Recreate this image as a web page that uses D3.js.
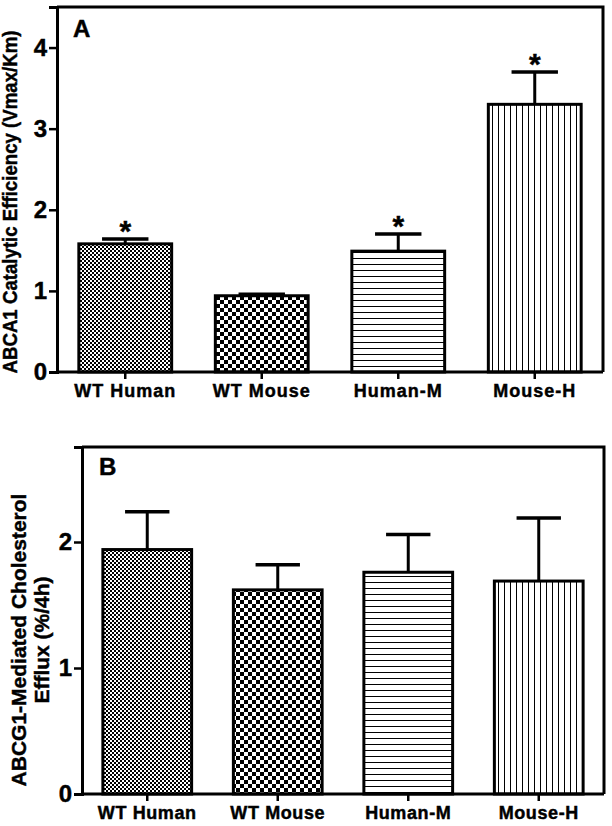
<!DOCTYPE html>
<html>
<head>
<meta charset="utf-8">
<script src="https://cdn.jsdelivr.net/npm/d3@7"></script>
<style>
  html, body { margin: 0; padding: 0; background: #fff; }
  svg { display: block; font-family: "Liberation Sans", Arial, sans-serif; font-weight: bold; }
  text { stroke: #000; stroke-width: 0.45px; fill: #000; }
</style>
</head>
<body>
<svg id="chart" width="612" height="826"></svg>
<script>
// ---- data ----
const categories = ["WT Human", "WT Mouse", "Human-M", "Mouse-H"];
const patternIds = ["fineCheck", "coarseCheck", "hLines", "vLines"];

const catalyticMean = [1.58, 0.94, 1.49, 3.30];
const catalyticErr  = [0.06, 0.02, 0.21, 0.40];
const catalyticSig  = [true, false, true, true];
const catalyticTicks = [0, 1, 2, 3, 4];

const effluxMean = [1.94, 1.62, 1.76, 1.69];
const effluxErr  = [0.30, 0.20, 0.30, 0.50];
const effluxSig  = [false, false, false, false];
const effluxTicks = [0, 1, 2];

const svg = d3.select("#chart");
const defs = svg.append("defs");

// patterns
function pat(id, w, h) {
  const p = defs.append("pattern").attr("id", id)
    .attr("patternUnits", "userSpaceOnUse").attr("width", w).attr("height", h);
  p.append("rect").attr("width", w).attr("height", h).attr("fill", "#fff");
  return p;
}
let p = pat("fineCheck", 4, 4);
p.append("rect").attr("x", 0).attr("y", 0).attr("width", 2).attr("height", 2).attr("fill", "#000");
p.append("rect").attr("x", 2).attr("y", 2).attr("width", 2).attr("height", 2).attr("fill", "#000");
p = pat("coarseCheck", 8, 8);
p.append("rect").attr("x", 0).attr("y", 0).attr("width", 4).attr("height", 4).attr("fill", "#000");
p.append("rect").attr("x", 4).attr("y", 4).attr("width", 4).attr("height", 4).attr("fill", "#000");
p = pat("hLines", 6, 6);
p.append("rect").attr("x", 0).attr("y", 0).attr("width", 6).attr("height", 1).attr("fill", "#000");
p = pat("vLines", 6, 6);
p.append("rect").attr("x", 0).attr("y", 0).attr("width", 1).attr("height", 6).attr("fill", "#000");

function panel(cfg) {
  const g = svg.append("g");
  const x = d3.scaleBand().domain(categories).range([cfg.left, cfg.right]).paddingInner(0.32).paddingOuter(0.16);
  const y = d3.scaleLinear().domain([0, cfg.ymax]).range([cfg.bottom, cfg.top]);

  // bars
  g.selectAll("rect.bar").data(categories).join("rect")
    .attr("class", "bar")
    .attr("x", d => x(d))
    .attr("y", (d, i) => y(cfg.mean[i]))
    .attr("width", x.bandwidth())
    .attr("height", (d, i) => y(0) - y(cfg.mean[i]))
    .attr("fill", (d, i) => `url(#${patternIds[i]})`)
    .attr("stroke", "#000").attr("stroke-width", 3);

  // error bars (upper only)
  const capW = x.bandwidth() / 2;
  categories.forEach((c, i) => {
    const cx = x(c) + x.bandwidth() / 2;
    const top = y(cfg.mean[i] + cfg.err[i]);
    g.append("line").attr("x1", cx).attr("x2", cx)
      .attr("y1", y(cfg.mean[i])).attr("y2", top)
      .attr("stroke", "#000").attr("stroke-width", 3);
    g.append("line").attr("x1", cx - capW / 2).attr("x2", cx + capW / 2)
      .attr("y1", top).attr("y2", top)
      .attr("stroke", "#000").attr("stroke-width", 3.5);
    if (cfg.sig[i]) {
      g.append("text").attr("x", cx).attr("y", top + 2)
        .attr("text-anchor", "middle").attr("font-size", 30).text("*");
    }
  });

  // frame (top and right)
  g.append("path")
    .attr("d", `M${cfg.left},${cfg.top}H${cfg.right}V${cfg.bottom}`)
    .attr("fill", "none").attr("stroke", "#000").attr("stroke-width", 3);

  // y axis
  const ya = g.append("g").attr("transform", `translate(${cfg.left},0)`)
    .call(d3.axisLeft(y).tickValues(cfg.ticks).tickFormat(d3.format("d")).tickSize(8).tickPadding(2));
  ya.select(".domain").attr("stroke-width", 3);
  ya.selectAll(".tick line").attr("stroke-width", 2.5);
  ya.selectAll(".tick text").attr("font-size", cfg.tickFont).attr("font-weight", "bold")
    .attr("font-family", "Liberation Sans, Arial, sans-serif").attr("fill", "#000");

  // x axis
  const xa = g.append("g").attr("transform", `translate(0,${cfg.bottom})`)
    .call(d3.axisBottom(x).tickSize(7).tickPadding(5));
  xa.select(".domain").attr("stroke-width", 3).attr("d", `M${cfg.left},0H${cfg.right}`);
  xa.selectAll(".tick line").attr("stroke-width", 2.5);
  xa.selectAll(".tick text").attr("font-size", cfg.xFont).attr("font-weight", "bold")
    .attr("letter-spacing", cfg.xSpacing)
    .attr("font-family", "Liberation Sans, Arial, sans-serif").attr("fill", "#000");

  // panel letter
  g.append("text").attr("x", cfg.letterX).attr("y", cfg.letterY)
    .attr("font-size", 24).text(cfg.letter);

  // y label
  cfg.ylabel.forEach((t, k) => {
    const tx = g.append("text")
      .attr("transform", `translate(${cfg.ylabX[k]},${cfg.ylabY}) rotate(-90)`)
      .attr("text-anchor", "middle").attr("font-size", cfg.ylabFont).text(t);
    if (cfg.ylabLen && cfg.ylabLen[k]) {
      tx.attr("textLength", cfg.ylabLen[k]).attr("lengthAdjust", "spacingAndGlyphs");
    }
  });
}

panel({
  left: 57, right: 603, top: 7, bottom: 372, ymax: 4.5,
  mean: catalyticMean, err: catalyticErr, sig: catalyticSig, ticks: catalyticTicks,
  tickFont: 24, xFont: 18, xSpacing: 1,
  letter: "A", letterX: 73, letterY: 37,
  ylabel: ["ABCA1 Catalytic Efficiency (Vmax/Km)"], ylabX: [17], ylabY: 202, ylabFont: 20,
  ylabLen: [343]
});

panel({
  left: 82, right: 604, top: 447, bottom: 794, ymax: 2.754,
  mean: effluxMean, err: effluxErr, sig: effluxSig, ticks: effluxTicks,
  tickFont: 24, xFont: 18, xSpacing: 0.6,
  letter: "B", letterX: 99, letterY: 475,
  ylabel: ["ABCG1-Mediated Cholesterol", "Efflux (%/4h)"], ylabX: [26, 49], ylabY: 640, ylabFont: 21
});
</script>
</body>
</html>
